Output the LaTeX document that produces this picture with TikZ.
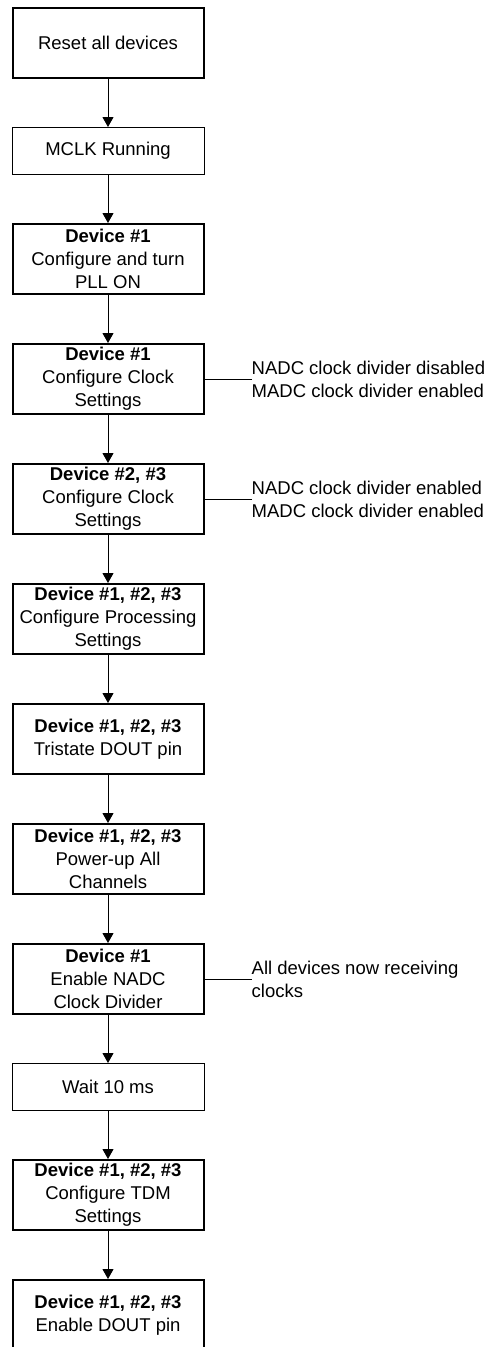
\documentclass[tikz,border=0pt]{standalone}
\usepackage{fontspec}
\setmainfont{Liberation Sans}
\usetikzlibrary{arrows.meta,positioning}
\newcommand\schrift{\fontsize{18.5}{23}\selectfont}

\begin{document}
\begin{tikzpicture}[x=1pt,y=1pt,node distance=48pt,
  schritt/.style={draw,line width=2pt,minimum width=191pt,minimum height=70pt,align=center,inner sep=0pt,font=\schrift},
  duenn/.style={schritt,line width=1pt,minimum width=192pt,minimum height=47pt},
  notiz/.style={anchor=west,align=left,inner sep=0pt,font=\schrift},
  pfeil/.style={line width=1pt,-{Triangle[length=10pt,width=11pt]}}]
%Rahmen wie im Original, unterste Box ist abgeschnitten
\useasboundingbox (0,0) rectangle (488,-1347);
\node[schritt] (reset) at (108,-43) {Reset all devices};
\node[duenn,below=of reset] (mclk) {MCLK Running};
\node[schritt,below=of mclk] (pll) {\textbf{Device \#1}\\Configure and turn\\PLL ON};
\node[schritt,below=of pll] (clkeins) {\textbf{Device \#1}\\Configure Clock\\Settings};
\node[schritt,below=of clkeins] (clkzwei) {\textbf{Device \#2, \#3}\\Configure Clock\\Settings};
\node[schritt,below=of clkzwei] (proc) {\textbf{Device \#1, \#2, \#3}\\Configure Processing\\Settings};
\node[schritt,below=of proc] (tristate) {\textbf{Device \#1, \#2, \#3}\\Tristate DOUT pin};
\node[schritt,below=of tristate] (power) {\textbf{Device \#1, \#2, \#3}\\Power-up All\\Channels};
\node[schritt,below=of power] (nadc) {\textbf{Device \#1}\\Enable NADC\\Clock Divider};
\node[duenn,below=of nadc] (warten) {Wait 10 ms};
\node[schritt,below=of warten] (tdm) {\textbf{Device \#1, \#2, \#3}\\Configure TDM\\Settings};
\node[schritt,below=of tdm] (dout) {\textbf{Device \#1, \#2, \#3}\\Enable DOUT pin};
%Pfeile von oben nach unten
\draw[pfeil] (reset) -- (mclk);
\draw[pfeil] (mclk) -- (pll);
\draw[pfeil] (pll) -- (clkeins);
\draw[pfeil] (clkeins) -- (clkzwei);
\draw[pfeil] (clkzwei) -- (proc);
\draw[pfeil] (proc) -- (tristate);
\draw[pfeil] (tristate) -- (power);
\draw[pfeil] (power) -- (nadc);
\draw[pfeil] (nadc) -- (warten);
\draw[pfeil] (warten) -- (tdm);
\draw[pfeil] (tdm) -- (dout);
%Anmerkungen rechts
\node[notiz,right=47pt of clkeins] (notizeins) {NADC clock divider disabled\\MADC clock divider enabled};
\node[notiz,right=47pt of clkzwei] (notizzwei) {NADC clock divider enabled\\MADC clock divider enabled};
\node[notiz,right=47pt of nadc] (notizdrei) {All devices now receiving\\clocks};
\draw[line width=1pt] (clkeins) -- (notizeins);
\draw[line width=1pt] (clkzwei) -- (notizzwei);
\draw[line width=1pt] (nadc) -- (notizdrei);
\end{tikzpicture}
\end{document}
